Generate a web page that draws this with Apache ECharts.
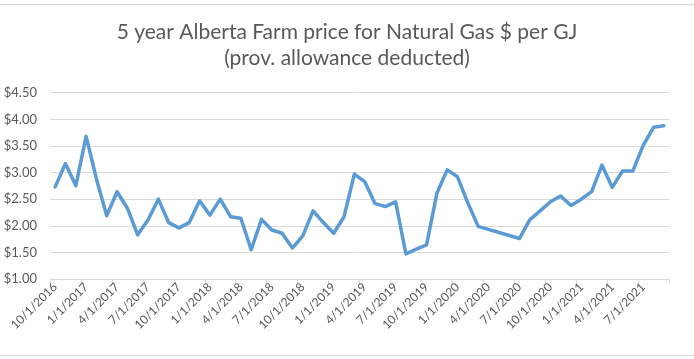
<!DOCTYPE html>
<html>
<head>
<meta charset="utf-8">
<script src="https://cdn.jsdelivr.net/npm/echarts@6/dist/echarts.min.js"></script>
<style>
html,body{margin:0;padding:0;background:#fff;}
#c{width:694px;height:359px;}
</style>
</head>
<body>
<div id="c"></div>
<script>
var titleText = '5 year Alberta Farm price for Natural Gas $ per GJ\n(prov. allowance deducted)';

var months = [
  '10/1/2016','11/1/2016','12/1/2016',
  '1/1/2017','2/1/2017','3/1/2017','4/1/2017','5/1/2017','6/1/2017','7/1/2017','8/1/2017','9/1/2017','10/1/2017','11/1/2017','12/1/2017',
  '1/1/2018','2/1/2018','3/1/2018','4/1/2018','5/1/2018','6/1/2018','7/1/2018','8/1/2018','9/1/2018','10/1/2018','11/1/2018','12/1/2018',
  '1/1/2019','2/1/2019','3/1/2019','4/1/2019','5/1/2019','6/1/2019','7/1/2019','8/1/2019','9/1/2019','10/1/2019','11/1/2019','12/1/2019',
  '1/1/2020','2/1/2020','3/1/2020','4/1/2020','5/1/2020','6/1/2020','7/1/2020','8/1/2020','9/1/2020','10/1/2020','11/1/2020','12/1/2020',
  '1/1/2021','2/1/2021','3/1/2021','4/1/2021','5/1/2021','6/1/2021','7/1/2021','8/1/2021','9/1/2021'
];

var prices = [
  2.73, 3.17, 2.75,
  3.68, 2.88, 2.19, 2.64, 2.33, 1.83, 2.11, 2.50, 2.06, 1.96, 2.06, 2.47,
  2.20, 2.50, 2.17, 2.14, 1.55, 2.12, 1.92, 1.86, 1.58, 1.81, 2.28, 2.06,
  1.86, 2.17, 2.97, 2.83, 2.42, 2.36, 2.45, 1.47, 1.56, 1.64, 2.61, 3.05,
  2.92, 2.43, 1.99, null, null, null, 1.76, 2.11, 2.28, 2.45, 2.56, 2.38,
  2.50, 2.64, 3.14, 2.72, 3.03, 3.03, 3.51, 3.85, 3.88
];

var yTicks = [1.0, 1.5, 2.0, 2.5, 3.0, 3.5, 4.0, 4.5];

var chart = echarts.init(document.getElementById('c'), null, {renderer: 'canvas'});
var FONT = 'Lato, "Liberation Sans", sans-serif';
chart.setOption({
  animation: false,
  backgroundColor: '#ffffff',
  title: {
    text: titleText,
    left: 'center',
    top: 14,
    textStyle: {
      fontFamily: FONT,
      fontSize: 21,
      fontWeight: 'normal',
      color: '#595959',
      lineHeight: 26
    }
  },
  graphic: [
    {type: 'line', shape: {x1: 0, y1: 4.5, x2: 694, y2: 4.5}, style: {stroke: '#d9d9d9', lineWidth: 1}},
    {type: 'line', shape: {x1: 0, y1: 355.5, x2: 694, y2: 355.5}, style: {stroke: '#d9d9d9', lineWidth: 1}}
  ],
  grid: {left: 50, right: 25, top: 92.7, bottom: 80, containLabel: false},
  xAxis: {
    type: 'category',
    data: months,
    boundaryGap: true,
    axisLine: {show: true, lineStyle: {color: '#d9d9d9', width: 1}},
    axisTick: {show: true, interval: 2, length: 5, lineStyle: {color: '#d9d9d9'}},
    axisLabel: {
      interval: 2,
      rotate: 45,
      margin: 6,
      fontFamily: FONT,
      fontSize: 12,
      color: '#595959'
    },
    splitLine: {show: false}
  },
  yAxis: {
    type: 'value',
    min: yTicks[0],
    max: yTicks[yTicks.length - 1],
    interval: 0.5,
    axisLine: {show: false},
    axisTick: {show: false},
    axisLabel: {
      margin: 13,
      fontFamily: FONT,
      fontSize: 13,
      color: '#595959',
      formatter: function (v) { return '$' + v.toFixed(2); }
    },
    splitLine: {show: true, lineStyle: {color: '#d9d9d9', width: 1}}
  },
  series: [{
    type: 'line',
    data: prices,
    connectNulls: true,
    showSymbol: false,
    symbol: 'none',
    lineStyle: {color: '#5b9bd5', width: 3.5, join: 'round', cap: 'round'},
    itemStyle: {color: '#5b9bd5'}
  }]
});
</script>
</body>
</html>
